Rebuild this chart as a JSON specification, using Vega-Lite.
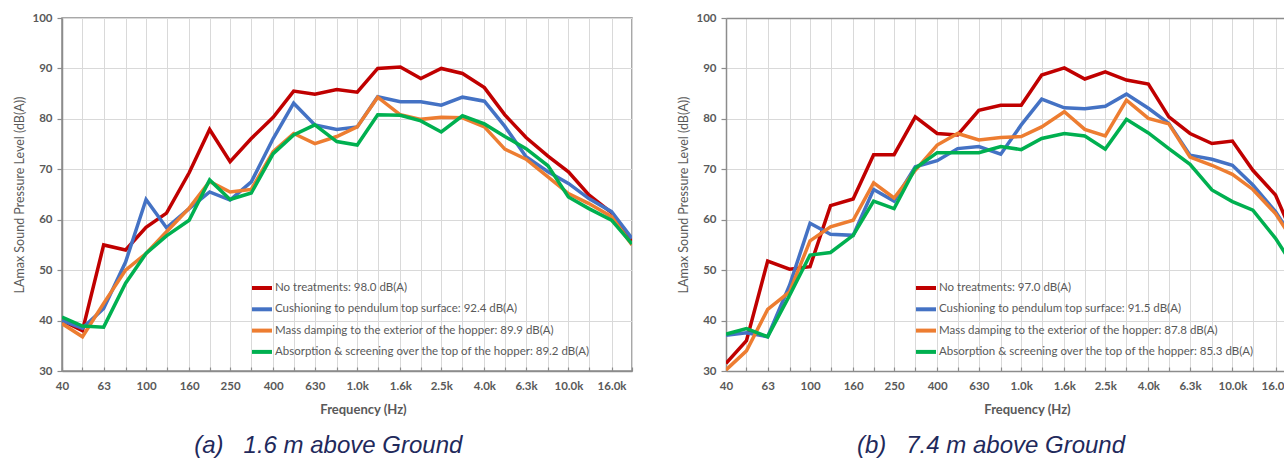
{
  "$schema": "https://vega.github.io/schema/vega-lite/v6.json",
  "background": "white",
  "padding": {"left": 13, "top": 11, "right": 0, "bottom": 0},
  "spacing": 43,
  "datasets": {
    "a": [
      {"f": 40, "r": 40, "b": 40, "o": 39.4, "g": 40.7},
      {"f": 50, "r": 38, "b": 38.5, "o": 36.8, "g": 38.9},
      {"f": 63, "r": 55, "b": 42.4, "o": 43.4, "g": 38.7},
      {"f": 80, "r": 54, "b": 51.6, "o": 50, "g": 47.4},
      {"f": 100, "r": 58.5, "b": 64, "o": 53.3, "g": 53.3},
      {"f": 125, "r": 61.3, "b": 58.4, "o": 57.6, "g": 56.8},
      {"f": 160, "r": 69.3, "b": 62.2, "o": 62.3, "g": 59.9},
      {"f": 200, "r": 77.9, "b": 65.5, "o": 67.6, "g": 67.9},
      {"f": 250, "r": 71.5, "b": 63.9, "o": 65.5, "g": 64},
      {"f": 315, "r": 76.1, "b": 67.5, "o": 66, "g": 65.3},
      {"f": 400, "r": 80.3, "b": 76.1, "o": 73.5, "g": 73.1},
      {"f": 500, "r": 85.5, "b": 83.1, "o": 77.1, "g": 76.8},
      {"f": 630, "r": 84.9, "b": 78.8, "o": 75.1, "g": 78.8},
      {"f": 800, "r": 85.8, "b": 77.9, "o": 76.5, "g": 75.5},
      {"f": 1000, "r": 85.3, "b": 78.4, "o": 78.4, "g": 74.8},
      {"f": 1250, "r": 90, "b": 84.4, "o": 84.3, "g": 80.8},
      {"f": 1600, "r": 90.3, "b": 83.4, "o": 80.8, "g": 80.7},
      {"f": 2000, "r": 88, "b": 83.4, "o": 79.9, "g": 79.6},
      {"f": 2500, "r": 90, "b": 82.7, "o": 80.3, "g": 77.4},
      {"f": 3150, "r": 89, "b": 84.3, "o": 80.2, "g": 80.6},
      {"f": 4000, "r": 86.2, "b": 83.5, "o": 78.4, "g": 79},
      {"f": 5000, "r": 80.8, "b": 78.5, "o": 74, "g": 76.5},
      {"f": 6300, "r": 76.3, "b": 72.5, "o": 72, "g": 74.1},
      {"f": 8000, "r": 72.6, "b": 69.5, "o": 68.5, "g": 70.7},
      {"f": 10000, "r": 69.5, "b": 67.2, "o": 65.2, "g": 64.5},
      {"f": 12500, "r": 64.9, "b": 64.2, "o": 63.2, "g": 62.2},
      {"f": 16000, "r": 61.4, "b": 61.6, "o": 60.6, "g": 59.9},
      {"f": 20000, "r": 55.8, "b": 56.3, "o": 55, "g": 55.2}
    ],
    "b": [
      {"f": 40, "r": 31.5, "b": 37.1, "o": 30.2, "g": 37.3},
      {"f": 50, "r": 36, "b": 37.6, "o": 34, "g": 38.4},
      {"f": 63, "r": 51.8, "b": 36.8, "o": 42.2, "g": 36.8},
      {"f": 80, "r": 50.2, "b": 47, "o": 45.7, "g": 45},
      {"f": 100, "r": 50.7, "b": 59.3, "o": 55.8, "g": 53},
      {"f": 125, "r": 62.8, "b": 57.1, "o": 58.6, "g": 53.5},
      {"f": 160, "r": 64.1, "b": 56.9, "o": 59.9, "g": 56.9},
      {"f": 200, "r": 72.9, "b": 66, "o": 67.3, "g": 63.7},
      {"f": 250, "r": 72.9, "b": 63.7, "o": 64.3, "g": 62.2},
      {"f": 315, "r": 80.4, "b": 70.5, "o": 69.8, "g": 70.2},
      {"f": 400, "r": 77.1, "b": 71.7, "o": 74.8, "g": 73.3},
      {"f": 500, "r": 76.8, "b": 74.1, "o": 77.1, "g": 73.3},
      {"f": 630, "r": 81.7, "b": 74.5, "o": 75.8, "g": 73.3},
      {"f": 800, "r": 82.7, "b": 73, "o": 76.3, "g": 74.5},
      {"f": 1000, "r": 82.7, "b": 78.8, "o": 76.5, "g": 73.9},
      {"f": 1250, "r": 88.7, "b": 83.9, "o": 78.4, "g": 76.1},
      {"f": 1600, "r": 90.1, "b": 82.2, "o": 81.4, "g": 77.1},
      {"f": 2000, "r": 87.9, "b": 82, "o": 77.9, "g": 76.6},
      {"f": 2500, "r": 89.3, "b": 82.5, "o": 76.6, "g": 74},
      {"f": 3150, "r": 87.7, "b": 84.9, "o": 83.7, "g": 79.9},
      {"f": 4000, "r": 86.9, "b": 82.1, "o": 80.1, "g": 77.2},
      {"f": 5000, "r": 80.4, "b": 79.1, "o": 79, "g": 74.1},
      {"f": 6300, "r": 77.1, "b": 72.8, "o": 72.4, "g": 71},
      {"f": 8000, "r": 75.1, "b": 72, "o": 70.8, "g": 65.9},
      {"f": 10000, "r": 75.6, "b": 70.8, "o": 69, "g": 63.6},
      {"f": 12500, "r": 69.8, "b": 66.9, "o": 66, "g": 61.9},
      {"f": 16000, "r": 64.9, "b": 61.6, "o": 61.2, "g": 56.3},
      {"f": 20000, "r": 55.5, "b": 55.3, "o": 55, "g": 50}
    ],
    "keysA": [
      {"k": "r", "s": "No treatments: 98.0 dB(A)"},
      {"k": "b", "s": "Cushioning to pendulum top surface: 92.4 dB(A)"},
      {"k": "o", "s": "Mass damping to the exterior of the hopper: 89.9 dB(A)"},
      {"k": "g", "s": "Absorption & screening over the top of the hopper: 89.2 dB(A)"}
    ],
    "keysB": [
      {"k": "r", "s": "No treatments: 97.0 dB(A)"},
      {"k": "b", "s": "Cushioning to pendulum top surface: 91.5 dB(A)"},
      {"k": "o", "s": "Mass damping to the exterior of the hopper: 87.8 dB(A)"},
      {"k": "g", "s": "Absorption & screening over the top of the hopper: 85.3 dB(A)"}
    ]
  },
  "hconcat": [
    {
      "width": 570,
      "height": 353,
      "data": {"name": "a"},
      "transform": [
        {"fold": ["r", "b", "o", "g"], "as": ["k", "v"]},
        {"lookup": "k", "from": {"data": {"name": "keysA"}, "key": "k", "fields": ["s"]}}
      ],
      "title": {"text": "(a)\u00a0\u00a0\u00a01.6 m above Ground", "orient": "bottom", "anchor": "middle", "frame": "bounds", "dx": 5, "offset": 18, "fontSize": 24, "fontStyle": "italic", "fontWeight": "normal", "font": "Liberation Sans", "color": "#1F2A5C"},
      "mark": {"type": "line", "strokeWidth": 3.5, "clip": true},
      "encoding": {
        "x": {
          "field": "f", "type": "quantitative",
          "scale": {"type": "log", "domain": [40, 20000], "nice": false},
          "axis": {
            "values": [40, 50, 63, 80, 100, 125, 160, 200, 250, 315, 400, 500, 630, 800, 1000, 1250, 1600, 2000, 2500, 3150, 4000, 5000, 6300, 8000, 10000, 12500, 16000, 20000],
            "labelExpr": "(round(10 * log(datum.value / 40) / LN10) % 2 == 0 && datum.value < 20000) ? (datum.value >= 1000 ? format(datum.value / 1000, '.1f') + 'k' : format(datum.value, 'd')) : ''",
            "labelOverlap": false, "labelFlush": false, "tickSize": -4, "labelPadding": 13,
            "title": "Frequency (Hz)", "titleFontWeight": "bold", "titleFontSize": 13, "titleX": 301, "titleY": 38, "titleBaseline": "middle"
          }
        },
        "y": {
          "field": "v", "type": "quantitative",
          "scale": {"domain": [30, 100], "nice": false, "zero": false},
          "axis": {"values": [30, 40, 50, 60, 70, 80, 90, 100], "tickSize": 5, "labelPadding": 5, "title": "LAmax Sound Pressure Level (dB(A))", "titleFontWeight": "normal", "titleFontSize": 12.5, "titlePadding": 5}
        },
        "color": {
          "field": "s", "type": "nominal",
          "scale": {"domain": ["No treatments: 98.0 dB(A)", "Cushioning to pendulum top surface: 92.4 dB(A)", "Mass damping to the exterior of the hopper: 89.9 dB(A)", "Absorption & screening over the top of the hopper: 89.2 dB(A)"], "range": ["#C00000", "#4472C4", "#ED7D31", "#00B050"]},
          "legend": {"orient": "none", "legendX": 188, "legendY": 258, "title": null}
        }
      }
    },
    {
      "width": 559,
      "height": 353,
      "view": {"stroke": null},
      "data": {"name": "b"},
      "transform": [
        {"fold": ["r", "b", "o", "g"], "as": ["k", "v"]},
        {"lookup": "k", "from": {"data": {"name": "keysB"}, "key": "k", "fields": ["s"]}}
      ],
      "title": {"text": "(b)\u00a0\u00a0\u00a07.4 m above Ground", "orient": "bottom", "anchor": "middle", "frame": "bounds", "dx": 7, "offset": 18, "fontSize": 24, "fontStyle": "italic", "fontWeight": "normal", "font": "Liberation Sans", "color": "#1F2A5C"},
      "mark": {"type": "line", "strokeWidth": 3.5, "clip": true},
      "encoding": {
        "x": {
          "field": "f", "type": "quantitative",
          "scale": {"type": "log", "domain": [40, 17744], "nice": false},
          "axis": {
            "values": [40, 50, 63, 80, 100, 125, 160, 200, 250, 315, 400, 500, 630, 800, 1000, 1250, 1600, 2000, 2500, 3150, 4000, 5000, 6300, 8000, 10000, 12500, 16000],
            "labelExpr": "(round(10 * log(datum.value / 40) / LN10) % 2 == 0 && datum.value < 20000) ? (datum.value >= 1000 ? format(datum.value / 1000, '.1f') + 'k' : format(datum.value, 'd')) : ''",
            "labelOverlap": false, "labelFlush": false, "tickSize": -4, "labelPadding": 13,
            "title": "Frequency (Hz)", "titleFontWeight": "bold", "titleFontSize": 13, "titleX": 301, "titleY": 38, "titleBaseline": "middle"
          }
        },
        "y": {
          "field": "v", "type": "quantitative",
          "scale": {"domain": [30, 100], "nice": false, "zero": false},
          "axis": {
            "values": [30, 40, 50, 60, 70, 80, 90, 100], "tickSize": 5, "labelPadding": 5,
            "gridColor": {"condition": {"test": "datum.value == 100", "value": "#8C8C8C"}, "value": "#D9D9D9"},
            "gridWidth": {"condition": {"test": "datum.value == 100", "value": 1.5}, "value": 1},
            "title": "LAmax Sound Pressure Level (dB(A))", "titleFontWeight": "normal", "titleFontSize": 12.5, "titlePadding": 5
          }
        },
        "color": {
          "field": "s", "type": "nominal",
          "scale": {"domain": ["No treatments: 97.0 dB(A)", "Cushioning to pendulum top surface: 91.5 dB(A)", "Mass damping to the exterior of the hopper: 87.8 dB(A)", "Absorption & screening over the top of the hopper: 85.3 dB(A)"], "range": ["#C00000", "#4472C4", "#ED7D31", "#00B050"]},
          "legend": {"orient": "none", "legendX": 188, "legendY": 258, "title": null}
        }
      }
    }
  ],
  "resolve": {
    "scale": {"x": "independent", "y": "independent", "color": "independent"},
    "axis": {"x": "independent", "y": "independent"},
    "legend": {"color": "independent"}
  },
  "config": {
    "view": {"stroke": "#8C8C8C", "strokeWidth": 1.5},
    "axis": {
      "gridColor": "#D9D9D9", "gridWidth": 1,
      "domainColor": "#8C8C8C", "domainWidth": 1.5,
      "tickColor": "#8C8C8C", "tickWidth": 1.2,
      "labelFont": "Lato", "labelFontWeight": "bold", "labelFontSize": 11.5, "labelColor": "#595959",
      "titleFont": "Lato", "titleColor": "#595959"
    },
    "legend": {
      "symbolType": "stroke", "symbolSize": 400, "symbolStrokeWidth": 4,
      "labelFont": "Lato", "labelFontSize": 11.5, "labelColor": "#595959", "labelLimit": 500,
      "labelOffset": 1, "rowPadding": 1.3, "padding": 0
    }
  }
}
